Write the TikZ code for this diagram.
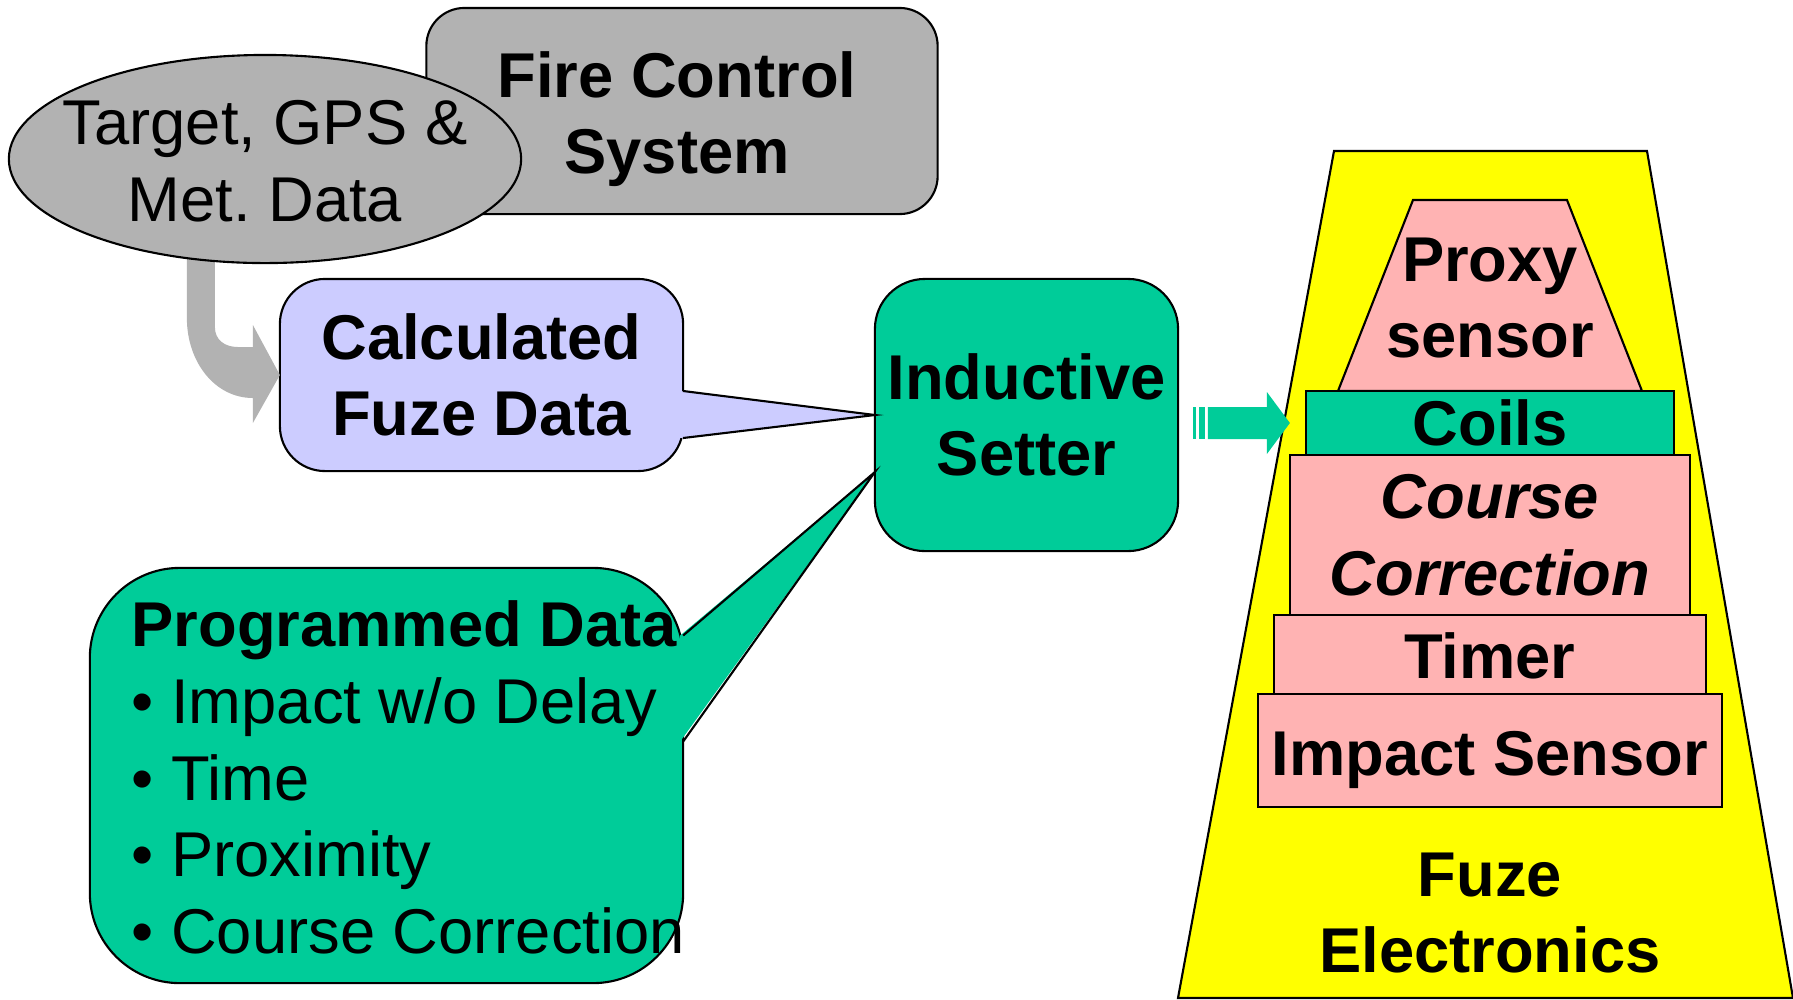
\documentclass[tikz,border=0pt]{standalone}
\usepackage{fontspec}
\setmainfont{Liberation Sans}
\usetikzlibrary{calc,positioning,shapes.geometric}
\frenchspacing

\definecolor{boxgray}{HTML}{B2B2B2}
\definecolor{calclilac}{HTML}{CCCCFF}
\definecolor{setterteal}{HTML}{00CC99}
\definecolor{fuzeyellow}{HTML}{FFFF00}
\definecolor{layerpink}{HTML}{FFB3B3}

\tikzset{
	txt/.style={font=\fontsize{18}{21.8}\selectfont, align=center},
	bold/.style={txt, font=\fontsize{18}{21.8}\selectfont\bfseries},
	box/.style={draw, rounded corners=#1, inner sep=0pt, outer sep=0pt},
	layer/.style={bold, draw, fill=layerpink, inner sep=0pt, outer sep=0pt}
}

\begin{document}
\begin{tikzpicture}[x=0.01cm, y=-0.01cm, line width=0.6pt]

		\useasboundingbox (0,0) rectangle (1793,999);

		% draw fire control box and the data ellipse on top of it
		\node[box=0.38cm, fill=boxgray, minimum width=5.11cm, minimum height=2.06cm] (fcs) at (682,111) {};
		\node[bold] (fcstext) at ($(fcs.center)+(-5,8)$) {Fire Control\\System};

		% draw calculated data box
		\node[box=0.45cm, bold, fill=calclilac, minimum width=4.03cm, minimum height=1.92cm] (calc) at (481.5,375) {Calculated\\Fuze Data};

		% draw bent gray arrow into the calculated data
		\begin{scope}[shift={(calc.west)}]
			\fill[boxgray] (-93,-135) -- (-93,-57) .. controls (-93,-13) and (-65,23) .. (-27,23)
				-- (-27,48) -- (0,0) -- (-27,-50) -- (-27,-28) -- (-42,-28)
				.. controls (-55,-28) and (-65,-35) .. (-65,-48) -- (-65,-135) -- cycle;
		\end{scope}

		\node[ellipse, draw, fill=boxgray, inner sep=0pt, minimum width=5.12cm, minimum height=2.08cm] (target) at (265,159) {};
		\node[txt] (targettext) at ($(target.center)+(0,2)$) {Target, GPS \&\\Met. Data};

		% draw setter and programmed data box
		\node[box=0.5cm, bold, fill=setterteal, minimum width=3.03cm, minimum height=2.72cm] (setter) at (1026.5,415) {Inductive\\Setter};
		\node[box=0.9cm, fill=setterteal, minimum width=5.93cm, minimum height=4.15cm] (prog) at (386.5,775.5) {};

		% callout pointers
		\fill[calclilac] ($(calc.east)+(-3,16)$) -- (setter.west) -- ($(calc.east)+(-3,63)$) -- cycle;
		\draw ($(calc.east)+(0,16)$) -- (setter.west) -- ($(calc.east)+(0,63)$);
		\fill[setterteal] ($(prog.east)+(-3,-140)$) -- ($(setter.west)+(0,57)$) -- ($(prog.east)+(-3,-34)$) -- cycle;
		\draw ($(prog.east)+(0,-140)$) -- ($(setter.west)+(0,57)$) -- ($(prog.east)+(0,-34)$);

		\node[txt, anchor=west, align=left] (progtext) at ($(prog.west)+(29,2)$) {\textbf{Programmed Data}\\• Impact w/o Delay\\• Time\\• Proximity\\• Course Correction};

		% draw fuze body
		\draw[fill=fuzeyellow] (1334,151) -- (1647,151) -- (1793,998) -- (1178,998) -- cycle;
		\draw[fill=layerpink] (1413,200) -- (1567,200) -- (1642,391) -- (1338,391) -- cycle;
		\node[bold] (proxy) at (1490,298) {Proxy\\sensor};

		% stacked layers
		\node[layer, fill=setterteal, minimum width=3.68cm, minimum height=0.64cm] (coils) at (1490,423) {Coils};
		\node[layer, minimum width=4cm, minimum height=1.6cm, below=0pt of coils] (course) {\itshape Course\\\itshape Correction};
		\node[layer, minimum width=4.32cm, minimum height=0.79cm, text height=14pt, below=0pt of course] (timer) {Timer};
		\node[layer, minimum width=4.64cm, minimum height=1.13cm, text height=18pt, text depth=3.8pt, below=0pt of timer] (impact) {Impact Sensor};
		\node[bold] (fuze) at (1490,913) {Fuze\\Electronics};

		% striped arrow from setter to coils
		\begin{scope}[shift={(coils.west)}]
			\fill[setterteal] (-113,-16) rectangle (-110,16);
			\fill[setterteal] (-107,-16) rectangle (-101,16);
			\fill[setterteal] (-98,-16) -- (-39,-16) -- (-39,-31) -- (-16,0) -- (-39,31) -- (-39,16) -- (-98,16) -- cycle;
		\end{scope}

	\end{tikzpicture}
\end{document}
